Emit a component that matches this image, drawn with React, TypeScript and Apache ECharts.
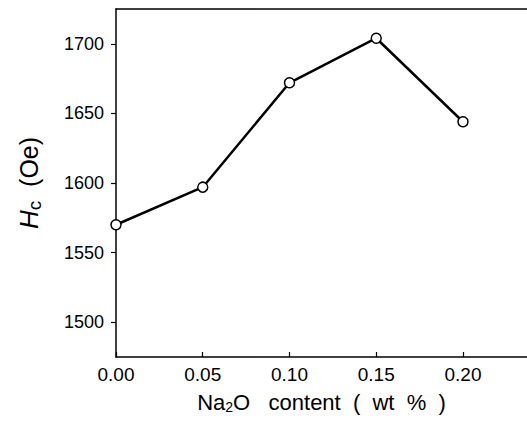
import React, { useEffect, useRef } from "react";
import * as echarts from "echarts";

const naContent = [0.0, 0.05, 0.1, 0.15, 0.2];
const hcValues = [1570, 1597, 1672, 1704, 1644];
const yTicks = [1500, 1550, 1600, 1650, 1700];
const xTicks = [0.0, 0.05, 0.1, 0.15, 0.2];

export default function App() {
  const ref = useRef<HTMLDivElement>(null);
  useEffect(() => {
    if (!ref.current) return;
    const chart = echarts.init(ref.current, null, { renderer: "svg" });
    const font = "Liberation Sans";
    chart.setOption({
      animation: false,
      backgroundColor: "#fff",
      grid: {
        left: 116,
        right: 0,
        top: 9,
        bottom: 64,
        show: false,
        containLabel: false,
        outerBoundsMode: "none",
      },
      xAxis: [
        {
          type: "value",
          min: 0,
          max: 0.2369,
          interval: 0.05,
          name: "{a|Na}{s|2}{a|O   content  (  wt  %  )}",
          nameLocation: "middle",
          nameGap: 33,
          nameTextStyle: {
            rich: {
              a: { fontFamily: font, fontSize: 22, color: "#000", lineHeight: 24 },
              s: { fontFamily: font, fontSize: 14, color: "#000", lineHeight: 24, verticalAlign: "bottom", padding: [6, 0, 0, 0] },
            },
          },
          axisLine: { show: true, onZero: false, lineStyle: { color: "#000", width: 1.5 } },
          axisTick: { show: true, inside: true, length: 5, lineStyle: { color: "#000", width: 1.2 }, customValues: xTicks },
          axisLabel: {
            customValues: xTicks,
            formatter: (v: number) => v.toFixed(2),
            fontFamily: font,
            fontSize: 19,
            color: "#000",
            margin: 8,
          },
          splitLine: { show: false },
        },
        {
          type: "value",
          position: "top",
          min: 0,
          max: 0.2369,
          axisLine: { show: true, onZero: false, lineStyle: { color: "#000", width: 1.5 } },
          axisTick: { show: false },
          axisLabel: { show: false },
          splitLine: { show: false },
        },
      ],
      yAxis: {
        type: "value",
        min: 1475,
        max: 1725,
        name: "{i|H}{s|c}{a|  (Oe)}",
        nameLocation: "middle",
        nameGap: 72,
        nameRotate: 90,
        nameTextStyle: {
          rich: {
            i: { fontFamily: font, fontSize: 26, fontStyle: "italic", color: "#000" },
            s: { fontFamily: font, fontSize: 19, color: "#000", padding: [12, 0, 0, 0] },
            a: { fontFamily: font, fontSize: 25, color: "#000" },
          },
        },
        axisLine: { show: true, lineStyle: { color: "#000", width: 1.5 } },
        axisTick: { show: true, inside: false, length: 5, lineStyle: { color: "#000", width: 1.2 }, customValues: yTicks },
        axisLabel: {
          customValues: yTicks,
          formatter: (v: number) => String(v),
          fontFamily: font,
          fontSize: 18,
          color: "#000",
          margin: 12,
        },
        splitLine: { show: false },
      },
      series: [
        {
          type: "line",
          data: naContent.map((x, i) => [x, hcValues[i]]),
          symbol: "circle",
          symbolSize: 10,
          lineStyle: { color: "#000", width: 2.5 },
          itemStyle: { color: "#fff", borderColor: "#000", borderWidth: 1.5 },
          z: 3,
        },
      ],
    });
    return () => chart.dispose();
  }, []);
  return (
    <div
      ref={ref}
      style={{ position: "fixed", left: 0, top: 0, width: 527, height: 421 }}
    />
  );
}
